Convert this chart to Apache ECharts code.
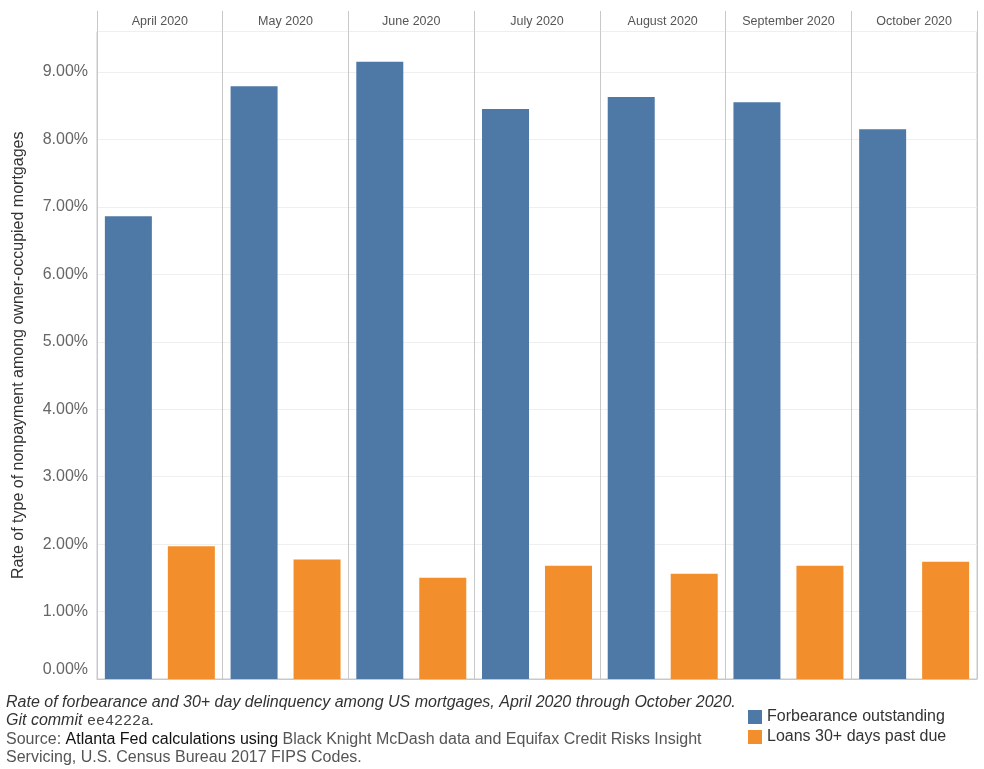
<!DOCTYPE html>
<html>
<head>
<meta charset="utf-8">
<script src="https://cdn.jsdelivr.net/npm/echarts@6/dist/echarts.min.js"></script>
<style>
html,body{margin:0;padding:0;background:#fff;}
#chart{width:984px;height:769px;}
</style>
</head>
<body>
<div id="chart"></div>
<script>
const months = ['April 2020','May 2020','June 2020','July 2020','August 2020','September 2020','October 2020'];
const forbearance = [6.86, 8.79, 9.15, 8.45, 8.63, 8.55, 8.15];
const pastDue = [1.97, 1.77, 1.50, 1.68, 1.56, 1.68, 1.74];
const seriesNames = ['Forbearance outstanding', 'Loans 30+ days past due'];
const colors = ['#4e79a7', '#f28e2b'];

const FONT = '"Liberation Sans", Arial, sans-serif';
const chart = echarts.init(document.getElementById('chart'), null, {renderer:'canvas'});

chart.setOption({
  animation: false,
  backgroundColor: '#fff',
  textStyle: {fontFamily: FONT},
  grid: [
    {left: 97, right: 7, top: 31.5, bottom: 90, show: true, borderColor: '#c8c8c8', borderWidth: 1, containLabel: false},
    {left: 97, right: 7, top: 11, height: 20.5, show: false, containLabel: false}
  ],
  xAxis: [
    {
      type: 'category',
      gridIndex: 0,
      position: 'top',
      data: months,
      axisLine: {show: true, lineStyle: {color: '#c8c8c8'}},
      axisTick: {show: false},
      axisLabel: {show: false},
      splitLine: {show: true, interval: 0, lineStyle: {color: '#c8c8c8'}}
    },
    {
      type: 'category',
      gridIndex: 1,
      position: 'top',
      data: months,
      axisLine: {show: false},
      axisTick: {show: false},
      axisLabel: {interval: 0, inside: true, margin: 4, verticalAlign: 'top', fontSize: 12.5, color: '#555', fontFamily: FONT},
      splitLine: {show: true, interval: 0, showMinLine: true, showMaxLine: true, lineStyle: {color: '#c8c8c8'}}
    }
  ],
  yAxis: [
    {
      type: 'value',
      gridIndex: 0,
      min: 0, max: 9.6, interval: 1,
      name: 'Rate of type of nonpayment among owner-occupied mortgages',
      nameLocation: 'middle', nameGap: 70,
      nameTextStyle: {fontSize: 16, color: '#333', fontFamily: FONT},
      axisLine: {show: false},
      axisTick: {show: false},
      axisLabel: {
        margin: 9, fontSize: 16, color: '#666', fontFamily: FONT, showMaxLabel: false,
        formatter: v => v === 0 ? '{z|0.00%}' : v.toFixed(2) + '%',
        rich: {z: {fontSize: 16, color: '#666', fontFamily: FONT, padding: [0,0,19,0]}}
      },
      splitLine: {show: true, lineStyle: {color: '#efefef'}}
    },
    {
      type: 'value', gridIndex: 1, min: 0, max: 1,
      axisLine: {show: false}, axisTick: {show: false}, axisLabel: {show: false}, splitLine: {show: false}
    }
  ],
  legend: {
    orient: 'vertical', left: 748, top: 709, padding: 0,
    itemWidth: 14, itemHeight: 14, itemGap: 4, icon: 'rect',
    textStyle: {fontSize: 16, color: '#333', fontFamily: FONT},
    data: seriesNames
  },
  series: [
    {name: seriesNames[0], type: 'bar', data: forbearance, barWidth: 47, barGap: '34%', itemStyle: {color: colors[0]}},
    {name: seriesNames[1], type: 'bar', data: pastDue, barWidth: 47, barGap: '34%', itemStyle: {color: colors[1]}}
  ],
  graphic: [
    {type: 'text', left: 6, top: 695, style: {text: 'Rate of forbearance and 30+ day delinquency among US mortgages, April 2020 through October 2020.', font: 'italic 16px ' + FONT, fill: '#333'}},
    {type: 'text', left: 6, top: 713, style: {
      text: '{i|Git commit }{m|ee4222a}{i|.}',
      rich: {
        i: {font: 'italic 16px ' + FONT, fill: '#333'},
        m: {font: '15px "Liberation Mono", "DejaVu Sans Mono", monospace', fill: '#444'}
      }
    }},
    {type: 'text', left: 6, top: 731.5, style: {
      text: '{g|Source: }{b|Atlanta Fed calculations using}{g| Black Knight McDash data and Equifax Credit Risks Insight}',
      rich: {
        g: {font: '16px ' + FONT, fill: '#555'},
        b: {font: '16px ' + FONT, fill: '#111'}
      }
    }},
    {type: 'text', left: 6, top: 749.5, style: {text: 'Servicing, U.S. Census Bureau 2017 FIPS Codes.', font: '16px ' + FONT, fill: '#555'}}
  ]
});
</script>
</body>
</html>
